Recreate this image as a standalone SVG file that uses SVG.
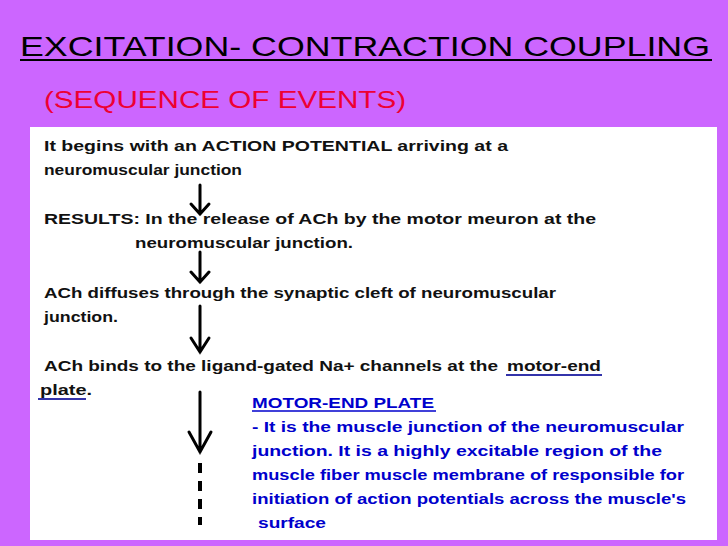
<svg xmlns="http://www.w3.org/2000/svg" width="728" height="546" viewBox="0 0 728 546">
<style>
.t{font-family:"Liberation Sans",Arial,sans-serif;font-weight:bold;font-size:15px;fill:#111}
.b{font-family:"Liberation Sans",Arial,sans-serif;font-weight:bold;font-size:15px;fill:#0000cc}
.ar{stroke:#000;stroke-width:3;fill:none;stroke-linecap:round}
</style>
<rect width="728" height="546" fill="#cc66ff"/>
<g id="title">
<text x="20" y="56" font-family="Liberation Sans,Arial,sans-serif" font-size="28" textLength="690" lengthAdjust="spacingAndGlyphs" fill="#000">EXCITATION- CONTRACTION COUPLING</text>
<line x1="20" y1="60" x2="712" y2="60" stroke="#000" stroke-width="2"/>
<text x="44" y="108" font-family="Liberation Sans,Arial,sans-serif" font-size="24" textLength="362" lengthAdjust="spacingAndGlyphs" fill="#ee0033">(SEQUENCE OF EVENTS)</text>
</g>
<rect x="30" y="127" width="687" height="413" fill="#fff"/>
<g id="step1">
<text class="t" x="44" y="151" textLength="464" lengthAdjust="spacingAndGlyphs">It begins with an ACTION POTENTIAL arriving at a</text>
<text class="t" x="44" y="175" textLength="198" lengthAdjust="spacingAndGlyphs">neuromuscular junction</text>
</g>
<g id="step2">
<text class="t" x="44" y="224" textLength="552" lengthAdjust="spacingAndGlyphs">RESULTS: In the release of ACh by the motor meuron at the</text>
<text class="t" x="135" y="248" textLength="218" lengthAdjust="spacingAndGlyphs">neuromuscular junction.</text>
</g>
<g id="step3">
<text class="t" x="44" y="298" textLength="512" lengthAdjust="spacingAndGlyphs">ACh diffuses through the synaptic cleft of neuromuscular</text>
<text class="t" x="44" y="322" textLength="74" lengthAdjust="spacingAndGlyphs">junction.</text>
</g>
<g id="step4">
<text class="t" x="44" y="371" textLength="454" lengthAdjust="spacingAndGlyphs">ACh binds to the ligand-gated Na+ channels at the</text>
<text class="t" x="507" y="371" textLength="94" lengthAdjust="spacingAndGlyphs">motor-end</text>
<line x1="506" y1="375" x2="602" y2="375" stroke="#3333aa" stroke-width="2"/>
<text class="t" x="40" y="395" textLength="52" lengthAdjust="spacingAndGlyphs">plate.</text>
<line x1="38" y1="399" x2="86" y2="399" stroke="#3333aa" stroke-width="2"/>
</g>
<g id="note">
<text class="b" x="252" y="408" textLength="182" lengthAdjust="spacingAndGlyphs">MOTOR-END PLATE</text>
<line x1="252" y1="411" x2="436" y2="411" stroke="#0000cc" stroke-width="1.5"/>
<text class="b" x="252" y="432" textLength="432" lengthAdjust="spacingAndGlyphs">- It is the muscle junction of the neuromuscular</text>
<text class="b" x="252" y="456" textLength="410" lengthAdjust="spacingAndGlyphs">junction. It is a highly excitable region of the</text>
<text class="b" x="252" y="480" textLength="432" lengthAdjust="spacingAndGlyphs">muscle fiber muscle membrane of responsible for</text>
<text class="b" x="252" y="504" textLength="434" lengthAdjust="spacingAndGlyphs">initiation of action potentials across the muscle's</text>
<text class="b" x="258" y="528" textLength="68" lengthAdjust="spacingAndGlyphs">surface</text>
</g>
<g id="connectors">
<path class="ar" d="M200 185V214M191 204L200 214L209 204"/>
<path class="ar" d="M200 252V282M191 272L200 282L209 272"/>
<path class="ar" d="M200 306V352M191 338L200 352L209 338"/>
<path class="ar" d="M200 392V452M189 432L200 452L211 432"/>
<path d="M200 463V525" stroke="#000" stroke-width="4" stroke-dasharray="10,8"/>
</g>
</svg>
